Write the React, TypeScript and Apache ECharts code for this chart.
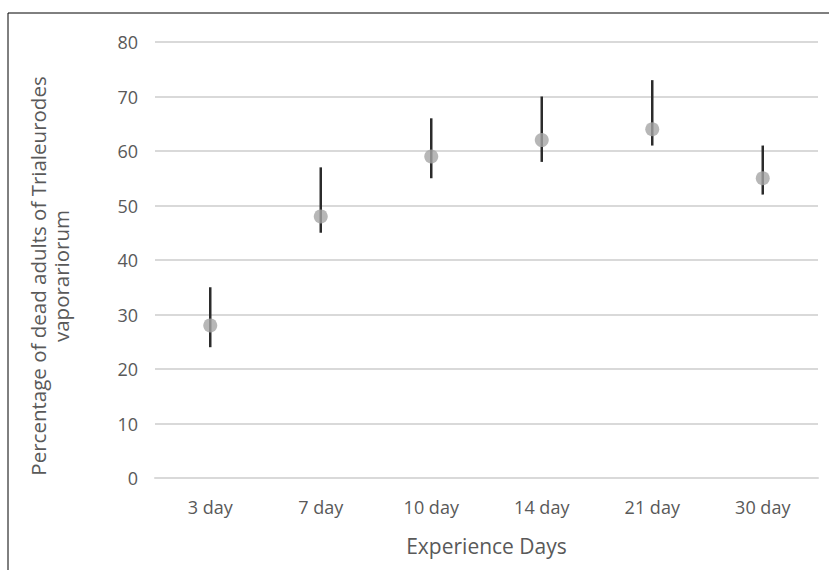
import React, { useEffect, useRef } from "react";
import * as echarts from "echarts";

const categories = ["3 day", "7 day", "10 day", "14 day", "21 day", "30 day"];
const means = [28, 48, 59, 62, 64, 55];
const lows = [24, 45, 55, 58, 61, 52];
const highs = [35, 57, 66, 70, 73, 61];
const yTitle = "Percentage of dead adults of Trialeurodes\nvaporariorum";
const xTitle = "Experience Days";

const FONT = "Open Sans";

export default function App() {
  const ref = useRef<HTMLDivElement>(null);
  useEffect(() => {
    if (!ref.current) return;
    const chart = echarts.init(ref.current, undefined, { renderer: "svg" });
    const errData = categories.map((_, i) => [i, lows[i], highs[i]]);
    chart.setOption({
      animation: false,
      backgroundColor: "#ffffff",
      graphic: [
        {
          type: "rect",
          shape: { x: 8, y: 13, width: 900, height: 700 },
          style: { fill: "none", stroke: "#000000", lineWidth: 1 },
          silent: true,
        },
        {
          type: "text",
          x: 49,
          y: 276,
          rotation: Math.PI / 2,
          silent: true,
          style: {
            text: yTitle,
            fill: "#595959",
            fontSize: 20.5,
            fontFamily: FONT,
            lineHeight: 23,
            align: "center",
            verticalAlign: "middle",
          },
        },
      ],
      grid: { left: 155, right: 11, top: 42, bottom: 92 },
      xAxis: {
        type: "category",
        data: categories,
        name: xTitle,
        nameLocation: "middle",
        nameGap: 57,
        nameTextStyle: { color: "#595959", fontSize: 21, fontFamily: FONT },
        axisLine: { show: true, lineStyle: { color: "#d9d9d9", width: 2 } },
        axisTick: { show: false },
        axisLabel: { color: "#595959", fontSize: 18, fontFamily: FONT, margin: 20 },
      },
      yAxis: {
        type: "value",
        min: 0,
        max: 80,
        interval: 10,
        axisLine: { show: false },
        axisTick: { show: false },
        axisLabel: { color: "#595959", fontSize: 18, fontFamily: FONT, margin: 17 },
        splitLine: { lineStyle: { color: "#d9d9d9", width: 2 } },
      },
      series: [
        {
          type: "custom",
          data: errData,
          z: 2,
          renderItem: (params: any, api: any) => {
            const x = api.value(0);
            const lo = api.coord([x, api.value(1)]);
            const hi = api.coord([x, api.value(2)]);
            return {
              type: "line",
              shape: { x1: lo[0], y1: lo[1], x2: hi[0], y2: hi[1] },
              style: { stroke: "#2b2b2b", lineWidth: 2.5 },
            };
          },
        },
        {
          type: "scatter",
          data: means,
          z: 3,
          symbol: "circle",
          symbolSize: 14,
          itemStyle: { color: "#a5a5a5" },
        },
      ],
    });
    return () => chart.dispose();
  }, []);
  return (
    <div
      ref={ref}
      style={{ position: "fixed", left: 0, top: 0, width: 829, height: 570 }}
    />
  );
}
